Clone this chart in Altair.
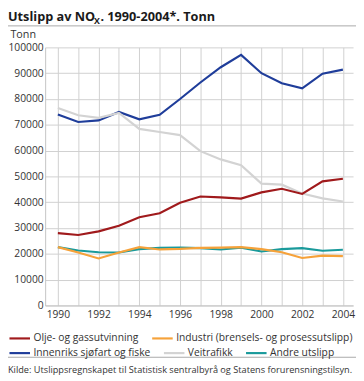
import altair as alt
import pandas as pd

years = list(range(1990, 2005))
olje = [28000, 27300, 28700, 30900, 34200, 35700, 39800, 42200, 41900, 41400, 43800, 45200, 43200, 48100, 49100]
industri = [22600, 20500, 18200, 20500, 22600, 21700, 21900, 22300, 22400, 22600, 21800, 20600, 18400, 19300, 19100]
innenriks = [74000, 71100, 71700, 75000, 72100, 73900, 80000, 86400, 92300, 97100, 90000, 86100, 84100, 89800, 91400]
veitrafikk = [76500, 73700, 72700, 74600, 68400, 67200, 66000, 59800, 56600, 54300, 47200, 46800, 43400, 41500, 40300]
andre = [22600, 21300, 20600, 20500, 21800, 22300, 22400, 22200, 21700, 22400, 20900, 21800, 22200, 21200, 21600]

names_a = ["Olje- og gassutvinning", "Industri (brensels- og prosessutslipp)"]
names_b = ["Innenriks sjøfart og fiske", "Veitrafikk", "Andre utslipp"]
colors_a = ["#a01a1c", "#f6a23a"]
colors_b = ["#1f3d9a", "#d3d3d3", "#1a9a9b"]
y_ticks = list(range(0, 100001, 10000))

FONT = "Open Sans"


def frame(names, series):
    rows = []
    for name, vals in zip(names, series):
        for yr, v in zip(years, vals):
            rows.append({"year": yr, "series": name, "value": v})
    return pd.DataFrame(rows)


df_a = frame(names_a, [olje, industri])
df_b = frame(names_b, [innenriks, veitrafikk, andre])

x_enc = alt.X(
    "year:Q",
    scale=alt.Scale(domain=[1989.375, 2004.5], nice=False, zero=False),
    axis=alt.Axis(
        values=years, format="d", title=None, ticks=False, grid=True,
        labelExpr="datum.value % 2 == 0 ? datum.label : ''",
        labelOverlap=False, labelPadding=4, labelFlush=False,
    ),
)
y_enc = alt.Y(
    "value:Q",
    scale=alt.Scale(domain=[0, 100000], nice=False),
    axis=alt.Axis(
        values=y_ticks, format="d", ticks=False, grid=True, labelPadding=2,
        labelOverlap=False, title="Tonn", titleAngle=0, titleAlign="left",
        titleBaseline="alphabetic", titleX=-36, titleY=-10.5, titleFontWeight="normal",
        titleFont=FONT, titleFontSize=11, titleColor="#333333",
    ),
)


def legend(ly):
    return alt.Legend(
        orient="none", legendX=-38, legendY=ly, direction="horizontal", title=None,
        symbolType="stroke", symbolSize=441, symbolStrokeWidth=2.2,
        labelFont=FONT, labelFontSize=10.5, labelColor="#333333",
        labelOffset=2, columnPadding=9, padding=0, labelLimit=400,
    )


lines_b = alt.Chart(df_b).mark_line(strokeWidth=2.2).encode(
    x=x_enc, y=y_enc,
    color=alt.Color("series:N", scale=alt.Scale(domain=names_b, range=colors_b), legend=legend(300.5)),
)
lines_a = alt.Chart(df_a).mark_line(strokeWidth=2.2).encode(
    x=x_enc, y=y_enc,
    color=alt.Color("series:N", scale=alt.Scale(domain=names_a, range=colors_a), legend=legend(285.5)),
)

one = pd.DataFrame({"k": [0]})
title1 = alt.Chart(one).mark_text(
    text="Utslipp av NO", font=FONT, fontSize=13, fontWeight="bold", align="left",
    baseline="alphabetic", color="#1a1a1a",
).encode(x=alt.value(-38), y=alt.value(-26.5))
title2 = alt.Chart(one).mark_text(
    text="X", font=FONT, fontSize=9, fontWeight="bold", align="left",
    baseline="alphabetic", color="#1a1a1a",
).encode(x=alt.value(50), y=alt.value(-23.5))
title3 = alt.Chart(one).mark_text(
    text=". 1990-2004*. Tonn", font=FONT, fontSize=13, fontWeight="bold", align="left",
    baseline="alphabetic", color="#1a1a1a",
).encode(x=alt.value(56.5), y=alt.value(-26.5))
rule_top = alt.Chart(one).mark_rule(color="#a8a8a8", strokeWidth=1).encode(
    x=alt.value(-38), x2=alt.value(318), y=alt.value(-22)
)
rule_bot = alt.Chart(one).mark_rule(color="#a8a8a8", strokeWidth=1).encode(
    x=alt.value(-38), x2=alt.value(318), y=alt.value(317)
)
source = alt.Chart(one).mark_text(
    text="Kilde: Utslippsregnskapet til Statistisk sentralbyrå og Statens forurensningstilsyn.",
    font=FONT, fontSize=9.4, align="left", baseline="alphabetic", color="#333333",
).encode(x=alt.value(-38), y=alt.value(333.5))

chart = (
    alt.layer(lines_b, lines_a, title1, title2, title3, rule_top, rule_bot, source)
    .resolve_scale(color="independent")
    .properties(
        width=315, height=264,
        padding={"left": 38, "top": 36, "right": 3, "bottom": 73},
        autosize=alt.AutoSizeParams(type="none"),
    )
    .configure_view(stroke=None)
    .configure_axis(
        labelFont=FONT, labelFontSize=10.5, labelColor="#333333",
        gridColor="#d0d0d0", gridWidth=1, domainColor="#c4c4c4", domainWidth=1,
    )
)

chart.save("out.html", embed_options={"renderer": "svg", "actions": False})
